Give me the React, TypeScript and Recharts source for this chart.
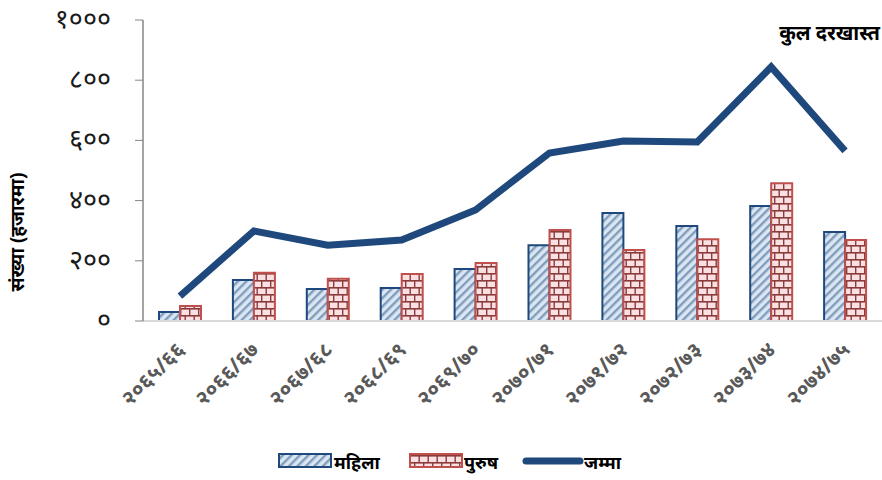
import { Bar, ComposedChart, Line, XAxis, YAxis } from "recharts";

const years = [
  "२०६५/६६",
  "२०६६/६७",
  "२०६७/६८",
  "२०६८/६९",
  "२०६९/७०",
  "२०७०/७१",
  "२०७१/७२",
  "२०७२/७३",
  "२०७३/७४",
  "२०७४/७५",
];
const female = [30, 136, 106, 110, 173, 252, 359, 316, 382, 296];
const male = [50, 160, 140, 156, 193, 302, 236, 272, 458, 269];
const total = [83, 299, 252, 269, 369, 558, 598, 595, 844, 565];
const yTicks = [0, 200, 400, 600, 800, 1000];

const devDigits = "०१२३४५६७८९";
const toDev = (n: number) => String(n).replace(/\d/g, (d) => devDigits[Number(d)]);

const data = years.map((year, i) => ({ year, female: female[i], male: male[i], total: total[i] }));

const FONT = "'Noto Sans', sans-serif";

function YTick({ y, payload }: { y?: number; payload?: { value: number } }) {
  return (
    <text x={111} y={(y ?? 0) + 8} textAnchor="end" fontSize={27} fill="#1a1a1a" fontFamily={FONT}>
      {toDev(payload?.value ?? 0)}
    </text>
  );
}

function XTick({ x, y, payload }: { x?: number; y?: number; payload?: { value: string } }) {
  const tx = (x ?? 0) + 6;
  const ty = (y ?? 0) + 22;
  return (
    <text
      x={tx}
      y={ty}
      textAnchor="end"
      fontSize={21}
      fontWeight="bold"
      fill="#595959"
      fontFamily={FONT}
      transform={`rotate(-45 ${tx} ${ty})`}
    >
      {payload?.value}
    </text>
  );
}

export default function App() {
  return (
    <div style={{ position: "relative", width: 882, height: 480, background: "#fff", fontFamily: FONT }}>
      <style>{"body{margin:0}"}</style>
      <ComposedChart
        width={882}
        height={480}
        data={data}
        margin={{ top: 20, right: 0, left: 0, bottom: 0 }}
        barGap={0}
      >
        <defs>
          <pattern id="hatch" patternUnits="userSpaceOnUse" width="6" height="6" patternTransform="rotate(45)">
            <rect width="6" height="6" fill="#dce6f2" />
            <rect width="2.4" height="6" fill="#7f9dbd" />
          </pattern>
          <pattern id="brick" patternUnits="userSpaceOnUse" width="9" height="14">
            <rect width="9" height="14" fill="#f9e1e3" />
            <rect y="0" width="9" height="1.6" fill="#8c3b3b" />
            <rect y="7" width="9" height="1.6" fill="#8c3b3b" />
            <rect x="0" y="0" width="1.4" height="7" fill="#8c3b3b" />
            <rect x="4.5" y="7" width="1.4" height="7" fill="#8c3b3b" />
          </pattern>
        </defs>
        <XAxis
          dataKey="year"
          height={159}
          interval={0}
          tickLine={false}
          axisLine={{ stroke: "#d9d9d9", strokeWidth: 2 }}
          tick={<XTick />}
        />
        <YAxis
          width={143}
          domain={[0, 1000]}
          ticks={yTicks}
          tickLine={{ stroke: "#868686" }}
          tickSize={8}
          axisLine={{ stroke: "#868686", strokeWidth: 1.5 }}
          tick={<YTick />}
        />
        <Bar dataKey="female" barSize={21} fill="url(#hatch)" stroke="#1f497d" strokeWidth={2} isAnimationActive={false} />
        <Bar dataKey="male" barSize={21} fill="url(#brick)" stroke="#c0504d" strokeWidth={2} isAnimationActive={false} />
        <Line
          dataKey="total"
          type="linear"
          stroke="#1f497d"
          strokeWidth={7}
          dot={false}
          activeDot={false}
          isAnimationActive={false}
        />
        <text x={880} y={40} textAnchor="end" fontSize={20} fontWeight="bold" fill="#000" fontFamily={FONT}>
          कुल दरखास्त
        </text>
        <text
          x={24}
          y={232}
          textAnchor="middle"
          fontSize={19}
          fontWeight="bold"
          fill="#000"
          fontFamily={FONT}
          transform="rotate(-90 24 232)"
        >
          संख्या (हजारमा)
        </text>
      </ComposedChart>
      <svg width={882} height={30} style={{ position: "absolute", left: 0, top: 448 }}>
        <rect x={279} y={6} width={52} height={13} fill="url(#hatch)" stroke="#1f497d" strokeWidth={2} />
        <text x={334} y={21} fontSize={18} fontWeight="bold" fill="#000" fontFamily={FONT}>
          महिला
        </text>
        <rect x={410} y={6} width={52} height={13} fill="url(#brick)" stroke="#c0504d" strokeWidth={2} />
        <text x={464} y={21} fontSize={18} fontWeight="bold" fill="#000" fontFamily={FONT}>
          पुरुष
        </text>
        <line x1={526} y1={13} x2={580} y2={13} stroke="#1f497d" strokeWidth={7} strokeLinecap="round" />
        <text x={584} y={21} fontSize={18} fontWeight="bold" fill="#000" fontFamily={FONT}>
          जम्मा
        </text>
      </svg>
    </div>
  );
}
